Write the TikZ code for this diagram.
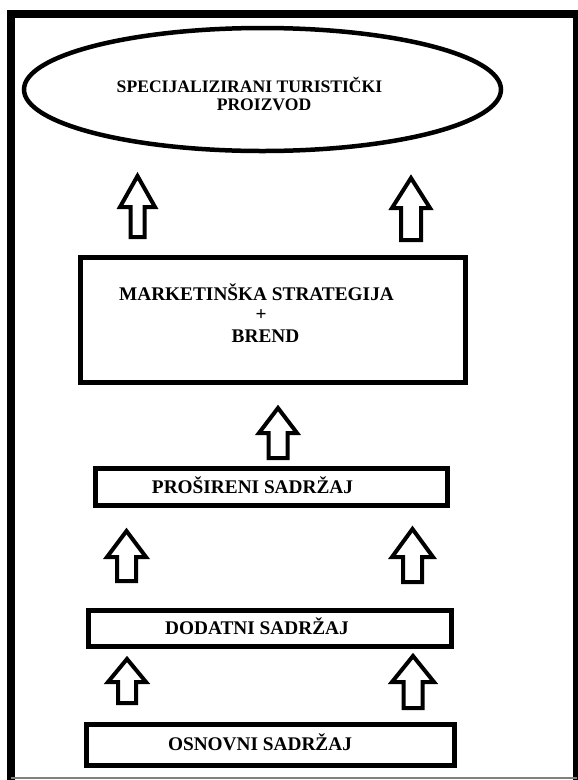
\documentclass[tikz,border=0pt]{standalone}
\usepackage{fontspec}
\setmainfont{Liberation Serif}
\usetikzlibrary{shapes.geometric}
\newcommand{\blockarrow}[6]{%
  \draw[barrow] (#1,#2) -- (#1+#5,#3) -- (#1+#6,#3) -- (#1+#6,#4) -- (#1-#6,#4) -- (#1-#6,#3) -- (#1-#5,#3) -- cycle;}
\tikzset{
  frameline/.style={line width=8pt, draw=black},
  ell/.style={ellipse, draw=black, line width=4.5pt, fill=white, inner sep=0pt},
  boxnode/.style={rectangle, draw=black, line width=5pt, fill=white, inner sep=0pt},
  barrow/.style={draw=black, line width=4pt, fill=white, line join=miter},
  lblbig/.style={anchor=base, inner sep=0pt, font=\fontsize{19.3}{21}\selectfont\bfseries},
  lblell/.style={anchor=base, inner sep=0pt, font=\fontsize{17.6}{19}\selectfont\bfseries}
}
\begin{document}
\begin{tikzpicture}[x=1pt, y=-1pt]
\useasboundingbox (0,0) rectangle (578,780);
\fill[white] (0,0) rectangle (578,780);
% frame
\draw[frameline] (11,780) -- (11,13.5) -- (577,13.5) -- (577,780);
\draw[gray, line width=1.2pt] (11,778) -- (577,778);
% ellipse
\node[ell, minimum width=477pt, minimum height=123pt] (prod) at (262.5,89.5) {};
\node[lblell] (prodA) at (249.5,92) {SPECIJALIZIRANI TURISTIČKI};
\node[lblell] (prodB) at (264,110) {PROIZVOD};
% boxes
\node[boxnode, minimum width=385pt, minimum height=125pt] (mark) at (272.5,320) {};
\node[lblbig] (markA) at (256.5,300) {MARKETINŠKA STRATEGIJA};
\node[lblbig] (markB) at (261,320) {+};
\node[lblbig] (markC) at (265.5,342) {BREND};
\node[boxnode, minimum width=352pt, minimum height=37pt] (pros) at (271.5,487) {};
\node[lblbig] (prosT) at (252.5,493.5) {PROŠIRENI SADRŽAJ};
\node[boxnode, minimum width=363pt, minimum height=36pt] (doda) at (270,628.5) {};
\node[lblbig] (dodaT) at (257,634) {DODATNI SADRŽAJ};
\node[boxnode, minimum width=368pt, minimum height=41pt] (osno) at (270.5,745) {};
\node[lblbig] (osnoT) at (260,750) {OSNOVNI SADRŽAJ};
% block arrows
\blockarrow{137.5}{176}{207}{237}{17.5}{7}
\blockarrow{411}{178}{208}{240}{19}{10}
\blockarrow{278}{408}{433}{458}{19}{9.5}
\blockarrow{126.5}{531}{557}{581}{19.5}{9.5}
\blockarrow{412.5}{529}{557}{582}{20.5}{9.5}
\blockarrow{127}{659}{682}{703}{19}{9}
\blockarrow{413}{656}{682}{708}{21}{9.5}
\end{tikzpicture}
\end{document}
